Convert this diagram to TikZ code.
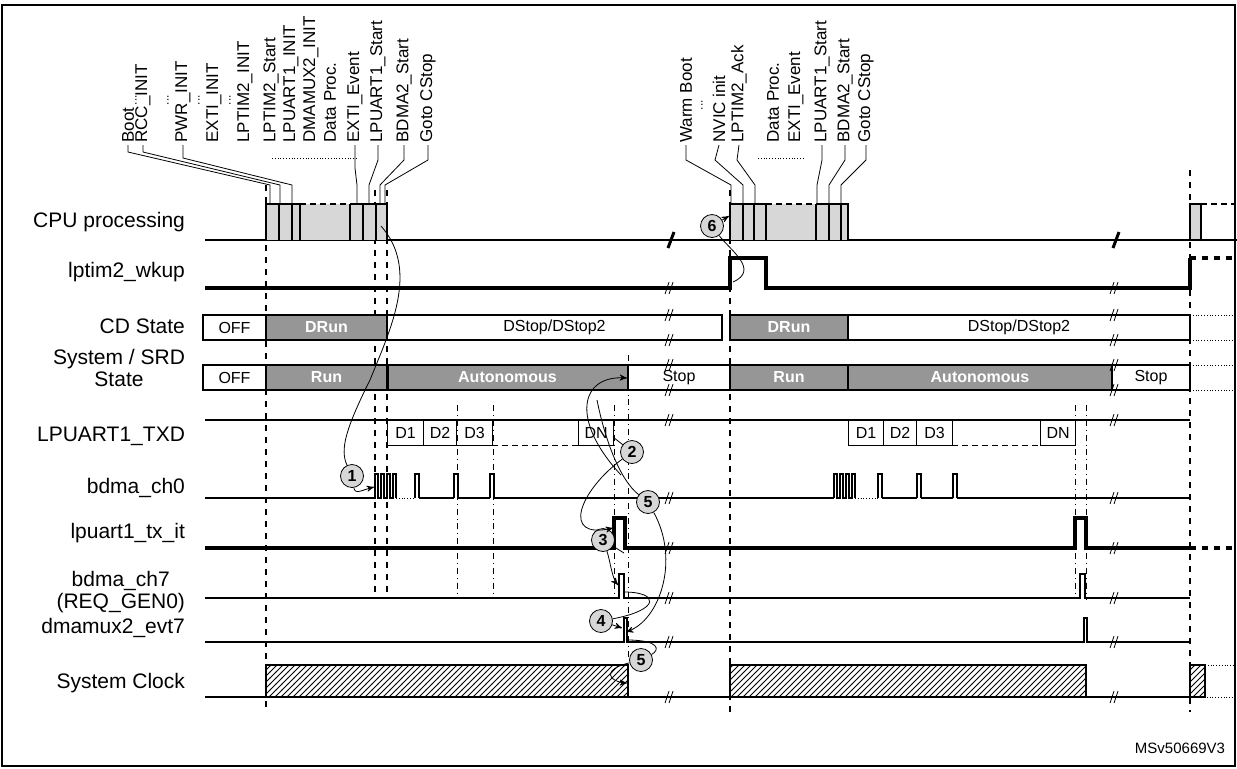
\documentclass[tikz,border=0pt]{standalone}
\usepackage{fontspec}
\setmainfont{Liberation Sans}
\usetikzlibrary{arrows,patterns,positioning,calc}
\definecolor{dgrey}{RGB}{150,150,150}
\definecolor{lgrey}{RGB}{215,215,215}
\tikzset{
  sig/.style={line width=0.9pt},
  tsig/.style={line width=1.6pt},
  rowlab/.style={anchor=east, font=\fontsize{10.5}{11}\selectfont, align=center},
  toplab/.style={rotate=90, anchor=west, font=\fontsize{8.5}{8.5}\selectfont, inner sep=1pt},
  vdash/.style={dashed, line width=0.6pt},
  vdot/.style={dash dot, line width=0.5pt},
  state/.style={draw, line width=0.6pt, inner sep=0pt, font=\fontsize{8}{8}\selectfont},
  dark/.style={state, fill=dgrey, text=white, font=\bfseries\fontsize{8}{8}\selectfont},
  cpu/.style={draw, line width=0.9pt, fill=lgrey},
  num/.style={circle, draw, fill=lgrey, inner sep=0pt, minimum size=11.5pt, font=\bfseries\fontsize{8}{8}\selectfont},
  arr/.style={->, >=stealth', line width=0.4pt},
  clk/.style={draw, line width=0.6pt, pattern=north east lines}
}
\newcommand{\brk}[2]{\draw[line width=0.4pt] (#1-3,#2+6) -- (#1+1,#2-6) (#1+1,#2+6) -- (#1+5,#2-6);}
\begin{document}
\begin{tikzpicture}[x=0.5pt,y=-0.5pt]
\useasboundingbox (0,0) rectangle (1237,768);
\draw[line width=0.8pt] (2,5) rectangle (1235,766);
% row labels
\node[rowlab] (lcpu) at (192,222) {CPU processing};
\node[rowlab] (llp) at (192,272) {lptim2\_wkup};
\node[rowlab] (lcd) at (192,326) {CD State};
\node[rowlab] (lsys) at (192,368) {System / SRD\\State};
\node[rowlab] (ltxd) at (192,436) {LPUART1\_TXD};
\node[rowlab] (lch0) at (192,488) {bdma\_ch0};
\node[rowlab] (lit) at (192,533) {lpuart1\_tx\_it};
\node[rowlab] (lch7) at (192,592) {bdma\_ch7\\(REQ\_GEN0)};
\node[rowlab] (levt) at (192,628) {dmamux2\_evt7};
\node[rowlab] (lclk) at (192,683) {System Clock};
\node[font=\fontsize{7.5}{7.5}\selectfont] (ver) at (1180,748) {MSv50669V3};
% vertical markers
\draw[vdash] (266,185) -- (266,712);
\draw[vdash] (375,190) -- (375,595);
\draw[vdash] (387,190) -- (387,595);
\draw[vdash] (730,190) -- (730,712);
\draw[vdash, line width=1pt] (1190,170) -- (1190,712);
\foreach \x in {457,493,614,1075} \draw[vdot] (\x,405) -- (\x,595);
\draw[vdot] (628,355) -- (628,660);
\draw[vdot] (1086,405) -- (1086,600);
% CPU processing
\draw[sig] (205,240) -- (1237,240);
\fill[lgrey] (266,204) rectangle (387,240);
\draw[sig] (266,240) -- (266,204) -- (300,204) (350,204) -- (387,204) -- (387,240);
\draw[sig, densely dashed] (300,204) -- (350,204);
\foreach \x in {279,292,300,350,363,376} \draw[sig] (\x,204) -- (\x,240);
\fill[lgrey] (730,204) rectangle (848,240);
\draw[sig] (730,240) -- (730,204) -- (766,204) (816,204) -- (848,204) -- (848,240);
\draw[sig, densely dashed] (766,204) -- (816,204);
\foreach \x in {743,754,766,816,829,841} \draw[sig] (\x,204) -- (\x,240);
\draw[cpu] (1190,240) rectangle (1201,204);
\draw[sig, densely dashed] (1201,204) -- (1235,204);
\draw[line width=1.5pt] (668,248) -- (674,232);
\draw[line width=1.5pt] (1113,248) -- (1119,232);
% lptim2_wkup
\draw[tsig] (205,288) -- (730,288) -- (730,258) -- (766,258) -- (766,288) -- (1190,288) -- (1190,258);
\draw[tsig, dashed] (1190,258) -- (1235,258);
% CD state
\node[state, minimum width=31.5pt, minimum height=12.5pt] (cdoff) at (234.5,327.5) {OFF};
\node[dark, minimum width=60.5pt, minimum height=12.5pt] (cdrun) at (326.5,327.5) {DRun};
\node[state, minimum width=167.5pt, minimum height=12.5pt] (cdstop) at (554.5,327.5) {DStop/DStop2};
\node[dark, minimum width=59pt, minimum height=12.5pt] (cdrun2) at (789,327.5) {DRun};
\node[state, minimum width=171pt, minimum height=12.5pt] (cdstop2) at (1019,327.5) {DStop/DStop2};
\draw[densely dotted] (1190,315) -- (1235,315) (1190,340) -- (1235,340);
% system state
\node[state, minimum width=31.5pt, minimum height=12.5pt] (soff) at (234.5,377.5) {OFF};
\node[dark, minimum width=60.5pt, minimum height=12.5pt] (srun) at (326.5,377.5) {Run};
\node[dark, minimum width=120.5pt, minimum height=12.5pt] (saut) at (507.5,377.5) {Autonomous};
\node[state, minimum width=51pt, minimum height=12.5pt] (sstop) at (679,377.5) {Stop};
\node[dark, minimum width=59pt, minimum height=12.5pt] (srun2) at (789,377.5) {Run};
\node[dark, minimum width=132pt, minimum height=12.5pt] (saut2) at (980,377.5) {Autonomous};
\node[state, minimum width=39pt, minimum height=12.5pt] (sstop2) at (1151,377.5) {Stop};
\draw[densely dotted] (1190,365) -- (1235,365) (1190,390) -- (1235,390);
\draw[line width=1.5pt] (387,365) -- (387,390);
% LPUART1_TXD
\draw[sig] (205,420) -- (1190,420);
\foreach \a/\b/\t [count=\i] in {387/423/D1,423/456/D2,456/492/D3,578/613/DN,848/883/D1,883/916/D2,916/952/D3,1040/1075/DN}
  \node[state, minimum width={(\b-\a)*0.5pt}, minimum height=12.5pt, anchor=north west] (d\i) at (\a,420) {\t};
\draw[densely dashed] (492,445) -- (578,445) (952,445) -- (1040,445);
% bdma_ch0
\draw[sig] (205,498) -- (375,498) -- (375,474) -- (378,474) -- (378,498) -- (381,498) -- (381,474) -- (384,474) -- (384,498)
  -- (387,498) -- (387,474) -- (390,474) -- (390,498) -- (393,498) -- (393,474) -- (396,474) -- (396,498);
\draw[densely dotted] (396,498) -- (415,498);
\foreach \x in {415,454,490} \draw[sig] (\x,498) -- (\x,474) -- (\x+4,474) -- (\x+4,498);
\draw[sig] (419,498) -- (454,498) (458,498) -- (490,498) (494,498) -- (834,498);
\draw[sig] (834,498) -- (834,474) -- (837,474) -- (837,498) -- (840,498) -- (840,474) -- (843,474) -- (843,498)
  -- (846,498) -- (846,474) -- (849,474) -- (849,498) -- (852,498) -- (852,474) -- (855,474) -- (855,498);
\draw[densely dotted] (855,498) -- (878,498);
\foreach \x in {878,917,953} \draw[sig] (\x,498) -- (\x,474) -- (\x+4,474) -- (\x+4,498);
\draw[sig] (882,498) -- (917,498) (921,498) -- (953,498) (957,498) -- (1190,498);
% lpuart1_tx_it
\draw[tsig] (205,548) -- (614,548) -- (614,518) -- (625,518) -- (625,548) -- (1075,548) -- (1075,518) -- (1086,518) -- (1086,548) -- (1190,548);
\draw[tsig, dashed] (1190,548) -- (1235,548);
% bdma_ch7
\draw[sig] (205,598) -- (619,598) -- (619,574) -- (624,574) -- (624,598) -- (1080,598) -- (1080,574) -- (1085,574) -- (1085,598) -- (1190,598);
% dmamux2_evt7
\draw[sig] (205,642) -- (624,642) -- (624,618) -- (627,618) -- (627,642) -- (1084,642) -- (1084,618) -- (1087,618) -- (1087,642) -- (1190,642);
% system clock
\draw[sig] (205,697) -- (1190,697);
\draw[clk] (266,697) rectangle (628,665);
\draw[clk] (730,697) rectangle (1086,665);
\draw[clk] (1190,697) rectangle (1205,665);
\draw[densely dotted] (1205,665) -- (1235,665) (1190,697) -- (1235,697);
% breaks
\foreach \y in {288,315,340,365,390,420,498,548,598,642,697} {\brk{668}{\y} \brk{1113}{\y}}
% top labels, first group
\foreach \x/\t/\n in {128/Boot/tboot,143/RCC\_INIT/trcc,183/PWR\_INIT/tpwr,214/EXTI\_INIT/texti,245/LPTIM2\_INIT/tlpi,
  271/LPTIM2\_Start/tlps,291/LPUART1\_INIT/tlui,311/DMAMUX2\_INIT/tdmx,330/Data Proc./tdp,355/EXTI\_Event/tev,
  378/LPUART1\_Start/tlus,404/BDMA2\_Start/tbst,428/Goto CStop/tgo}
  \node[toplab] (\n) at (\x,145) {\t};
\foreach \x/\y in {136/100,168/100,199/100,230/100} \node[font=\fontsize{6}{6}\selectfont, rotate=90] at (\x,\y) {...};
\draw[densely dotted] (272,158) -- (358,158);
\draw (tboot.west) -- (128,152) -- (270,185) -- (270,204);
\draw (trcc.west) -- (143,152) -- (280,185) -- (280,204);
\draw (tpwr.west) -- (183,158) -- (292,185) -- (292,204);
\draw (tev.west) -- (355,168) -- (357,185) -- (357,204);
\draw (tlus.west) -- (378,160) -- (369,185) -- (369,204);
\draw (tbst.west) -- (404,160) -- (380,185) -- (380,204);
\draw (tgo.west) -- (428,160) -- (385,185) -- (385,204);
% top labels, second group
\foreach \x/\t/\n in {686/Warm Boot/twb,719/NVIC init/tnv,739/LPTIM2\_Ack/tack,773/Data Proc./tdp2,796/EXTI\_Event/tev2,
  822/LPUART1\_Start/tlus2,845/BDMA2\_Start/tbst2,866/Goto CStop/tgo2}
  \node[toplab] (\n) at (\x,145) {\t};
\node[font=\fontsize{6}{6}\selectfont, rotate=90] at (702,105) {...};
\draw[densely dotted] (758,158) -- (803,158);
\draw (twb.west) -- (686,160) -- (731,185) -- (731,204);
\draw (tnv.west) -- (715,160) -- (743,185) -- (743,204);
\draw (tack.west) -- (737,160) -- (755,185) -- (755,204);
\draw (tlus2.west) -- (822,160) -- (817,185) -- (817,204);
\draw (tbst2.west) -- (845,160) -- (829,185) -- (829,204);
\draw (tgo2.west) -- (866,160) -- (841,185) -- (841,204);
% sequence numbers
\node[num] (n1) at (352,476) {1};
\node[num] (n2) at (632,452) {2};
\node[num] (n5a) at (648,502) {5};
\node[num] (n3) at (603,540) {3};
\node[num] (n4) at (601,621) {4};
\node[num] (n5b) at (641,660) {5};
\node[num] (n6) at (712,226) {6};
\draw (381,226) .. controls (420,270) and (390,330) .. (370,380) .. controls (345,430) and (340,450) .. (n1);
\draw[arr] (n1) .. controls (355,495) and (362,490) .. (374,487);
\draw (613,437) -- (n2);
\draw[arr] (n2) .. controls (580,490) and (560,540) .. (613,528);
\draw (597,400) .. controls (605,440) and (620,480) .. (n5a);
\draw[arr] (n5a) .. controls (680,560) and (660,620) .. (626,632);
\draw[arr] (621,475) .. controls (570,420) and (580,375) .. (627,378);
\draw (624,553) -- (n3);
\draw[arr] (n3) .. controls (610,560) and (612,578) .. (618,585);
\draw (624,592) .. controls (660,592) and (660,610) .. (n4);
\draw[arr] (n4) -- (622,628);
\draw (627,640) .. controls (660,640) and (660,650) .. (n5b);
\draw[arr] (n5b) .. controls (600,670) and (610,682) .. (627,683);
\draw[arr] (n6) -- (729,216);
\draw (n6) .. controls (730,250) and (760,270) .. (733,282);
\end{tikzpicture}
\end{document}
